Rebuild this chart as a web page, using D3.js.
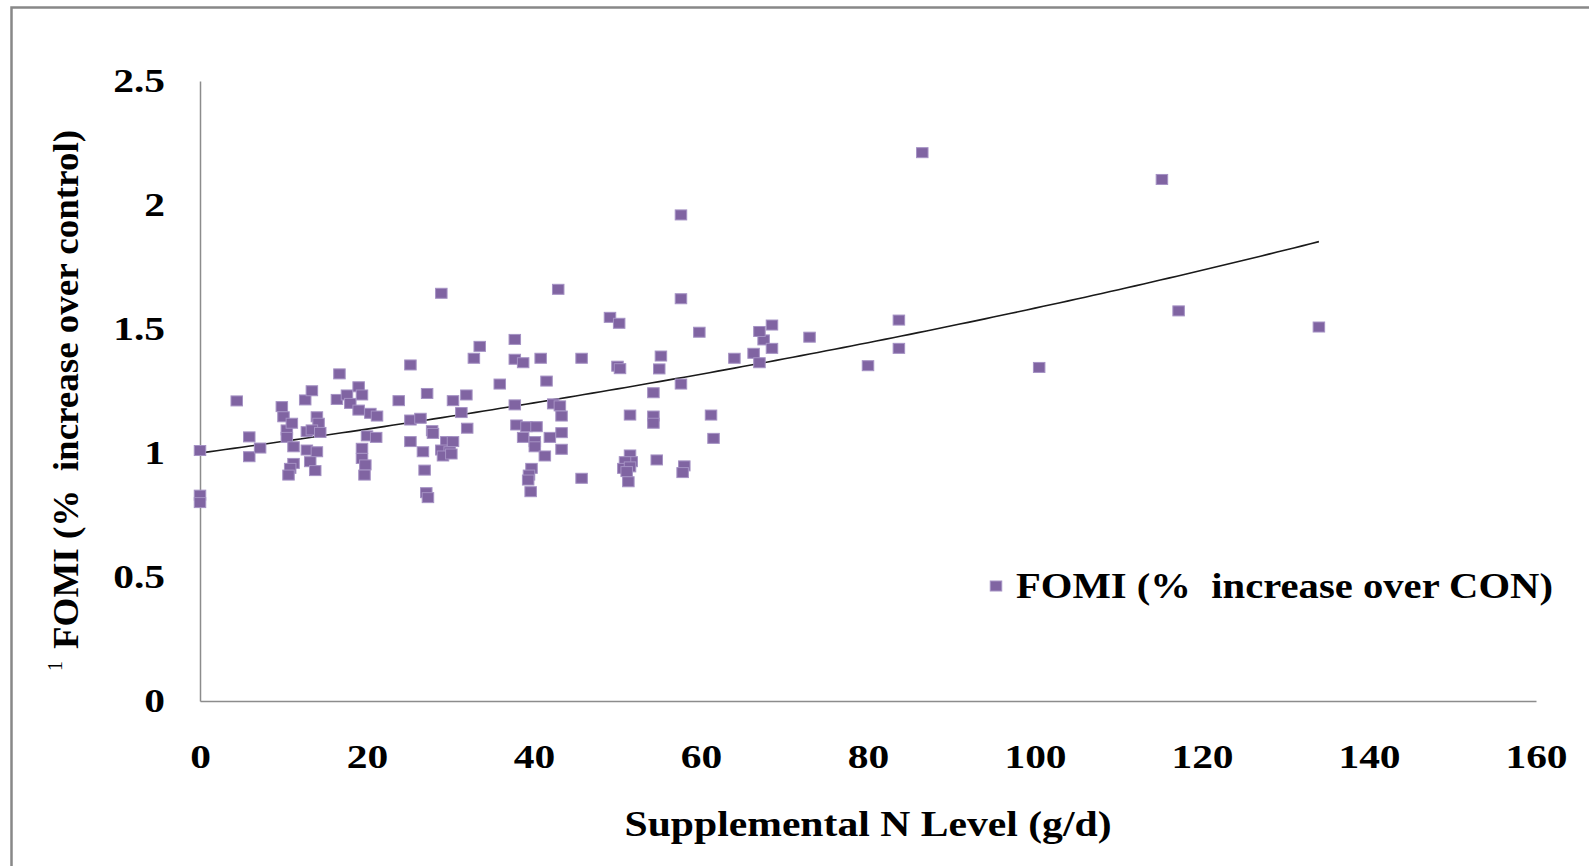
<!DOCTYPE html>
<html>
<head>
<meta charset="utf-8">
<style>
  body { margin: 0; background: #fff; }
  svg { display: block; }
  text { font-family: "Liberation Serif", "Times New Roman", serif; font-weight: bold; fill: #000; white-space: pre; }
  .axis path { stroke: #8c8c8c; stroke-width: 1.5px; }
  .axis text { font-size: 34px; font-family: "Liberation Serif", "Times New Roman", serif; }
  .trend { fill: none; stroke: #1a1a1a; stroke-width: 1.6px; }
  .dot { fill: #8064a2; stroke: #a592c4; stroke-width: 1px; }
</style>
</head>
<body>
<svg width="1589" height="866"></svg>
<script src="https://d3js.org/d3.v7.min.js"></script>
<script>

    // supplemental N level (g/d) and FOMI ratio
    var nLevel = [0, 0, 0, 4.4, 5.9, 5.9, 7.2, 9.8, 10.0, 10.4,
        10.4, 11.0, 11.2, 11.2, 10.8, 10.6, 12.6, 13.4, 14.0, 14.2,
        12.8, 13.4, 14.4, 12.8, 14.0, 13.2, 13.8, 16.7, 16.4, 17.6,
        18.0, 19.0, 19.4, 19.0, 20.4, 21.2, 20.0, 21.1, 19.4, 19.4,
        19.8, 19.7, 23.8, 25.2, 25.2, 26.4, 27.2, 25.2, 26.7, 26.9,
        27.8, 27.9, 27.1, 27.3, 28.9, 29.5, 30.3, 28.9, 29.9, 29.1,
        30.1, 30.3, 31.9, 31.3, 32.0, 32.8, 33.5, 35.9, 37.7, 37.7,
        38.7, 40.8, 41.5, 37.7, 42.3, 43.1, 43.3, 37.9, 39.1, 40.3,
        38.7, 40.1, 40.1, 41.9, 43.3, 41.3, 43.3, 39.7, 39.4, 39.3,
        39.6, 42.9, 45.7, 45.7, 49.1, 50.2, 50.0, 50.3, 51.5, 51.5,
        51.7, 50.9, 50.7, 51.5, 51.1, 51.3, 55.2, 55.0, 54.3, 54.3,
        54.3, 54.7, 57.6, 57.6, 57.6, 58.0, 57.8, 59.8, 61.2, 61.5,
        64.0, 66.3, 67.0, 67.5, 68.5, 67.0, 68.5, 73.0, 80.0, 83.7,
        83.7, 86.5, 100.5, 115.2, 117.2, 134.0];

    var fomi = [1.01, 0.83, 0.80, 1.21, 1.065, 0.985, 1.02, 1.187, 1.146, 1.093,
        1.063, 1.12, 1.025, 0.958, 0.938, 0.911, 1.214, 1.251, 1.146, 1.12,
        1.086, 1.093, 1.083, 1.012, 1.005, 0.965, 0.929, 1.319, 1.216, 1.234,
        1.20, 1.267, 1.234, 1.173, 1.16, 1.149, 1.069, 1.063, 1.019, 0.978,
        0.952, 0.911, 1.211, 1.355, 1.133, 1.14, 1.24, 1.046, 1.005, 0.931,
        1.09, 1.079, 0.84, 0.82, 1.644, 1.046, 1.046, 1.012, 1.005, 0.988,
        0.996, 1.211, 1.234, 1.163, 1.10, 1.382, 1.43, 1.278, 1.458, 1.378,
        1.364, 1.382, 1.29, 1.194, 1.198, 1.19, 1.149, 1.113, 1.106, 1.106,
        1.063, 1.046, 1.025, 1.063, 1.082, 0.988, 1.015, 0.938, 0.911, 0.891,
        0.844, 1.66, 1.382, 0.898, 1.547, 1.523, 1.35, 1.34, 1.153, 0.992,
        0.965, 0.965, 0.938, 0.944, 0.925, 0.884, 1.391, 1.339, 1.243, 1.149,
        1.12, 0.972, 1.96, 1.622, 1.278, 0.948, 0.921, 1.487, 1.153, 1.059,
        1.382, 1.402, 1.364, 1.456, 1.422, 1.49, 1.516, 1.467, 1.352, 1.536,
        1.422, 2.211, 1.345, 2.103, 1.573, 1.508];

    var xTicks = [0, 20, 40, 60, 80, 100, 120, 140, 160];
    var yTicks = [0, 0.5, 1, 1.5, 2, 2.5];

    // exponential trendline as Excel shows it: y = 1.0 e^(0.0046x), over x 0..134
    var trendA = 1.0,
        trendB = 0.0046,
        trendRange = [0, 134];

    var svg = d3.select("svg"),
        margin = {top: 81, right: 53, bottom: 165, left: 200},
        width = +svg.attr("width") - margin.left - margin.right,
        height = +svg.attr("height") - margin.top - margin.bottom;

    // chart area frame (only top and left edges fall inside the picture)
    svg.append("rect")
        .attr("x", 11.5)
        .attr("y", 7.5)
        .attr("width", 1620)
        .attr("height", 900)
        .attr("fill", "none")
        .attr("stroke", "#888")
        .attr("stroke-width", 2.5);

    var g = svg.append("g")
        .attr("transform", "translate(" + margin.left + "," + margin.top + ")");

    var x = d3.scaleLinear().domain([0, 160]).range([0, width]);
    var y = d3.scaleLinear().domain([0, 2.5]).range([height, 0]);

    // Excel draws its labels wider than Times, so stretch them a bit
    function stretch(sel, k) {
        sel.each(function() {
            var w = this.getComputedTextLength();
            d3.select(this).attr("textLength", w * k).attr("lengthAdjust", "spacingAndGlyphs");
        });
    }

    var yAxis = g.append("g")
        .attr("class", "axis axis--y")
        .call(d3.axisLeft(y).tickValues(yTicks).tickSize(0).tickSizeOuter(0).tickPadding(35)
            .tickFormat(function(d) { return String(d); }));
    yAxis.selectAll("text").attr("fill", "#000");
    stretch(yAxis.selectAll("text"), 1.22);

    var xAxis = g.append("g")
        .attr("class", "axis axis--x")
        .attr("transform", "translate(0," + height + ")")
        .call(d3.axisBottom(x).tickValues(xTicks).tickSize(0).tickSizeOuter(0).tickPadding(43));
    xAxis.selectAll("text").attr("fill", "#000");
    stretch(xAxis.selectAll("text"), 1.22);

    // trendline
    var line = d3.line()
        .x(function(d) { return x(d); })
        .y(function(d) { return y(trendA * Math.exp(trendB * d)); });

    g.append("path")
        .attr("class", "trend")
        .attr("d", line(d3.range(trendRange[0], trendRange[1] + 0.5, 1)));

    // points
    var sw = 11.5, sh = 10;
    g.selectAll(".dot")
        .data(d3.range(nLevel.length))
        .enter().append("rect")
        .attr("class", "dot")
        .attr("x", function(i) { return x(nLevel[i]) - sw / 2; })
        .attr("y", function(i) { return y(fomi[i]) - sh / 2; })
        .attr("width", sw)
        .attr("height", sh);

    // legend
    svg.append("rect")
        .attr("class", "dot")
        .attr("x", 996 - sw / 2)
        .attr("y", 586 - sh / 2)
        .attr("width", sw)
        .attr("height", sh);
    svg.append("text")
        .attr("x", 1016)
        .attr("y", 598)
        .style("font-size", "35px")
        .attr("textLength", 537)
        .attr("lengthAdjust", "spacingAndGlyphs")
        .text("FOMI (%  increase over CON)");

    // axis titles
    svg.append("text")
        .attr("x", margin.left + width / 2)
        .attr("y", 836)
        .attr("text-anchor", "middle")
        .style("font-size", "36px")
        .attr("textLength", 487)
        .attr("lengthAdjust", "spacingAndGlyphs")
        .text("Supplemental N Level (g/d)");

    svg.append("text")
        .attr("transform", "translate(78," + (margin.top + height / 2 - 1.5) + ") rotate(-90)")
        .attr("text-anchor", "middle")
        .style("font-size", "36px")
        .attr("textLength", 519)
        .attr("lengthAdjust", "spacingAndGlyphs")
        .text("FOMI (%  increase over control)");

    svg.append("text")
        .attr("transform", "translate(62,666) rotate(-90)")
        .attr("text-anchor", "middle")
        .style("font-size", "20px")
        .style("font-weight", "normal")
        .text("1");

</script>
</body>
</html>
